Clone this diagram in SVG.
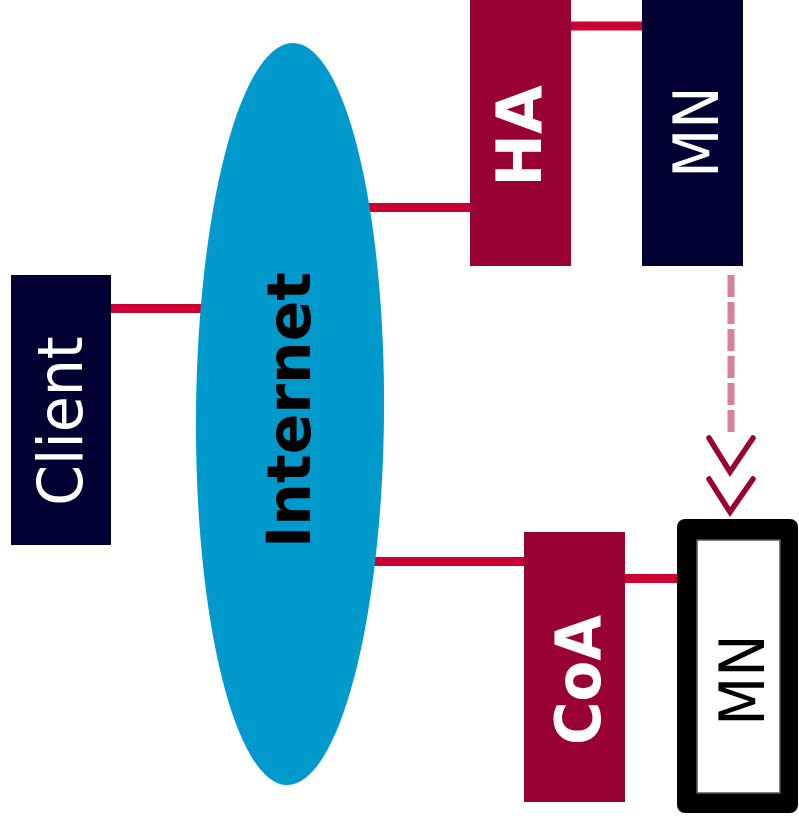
<svg xmlns="http://www.w3.org/2000/svg" width="799" height="821" viewBox="0 0 799 821">
  <style>
    .link { stroke: #CC0033; stroke-width: 9; fill: none; }
    .navy { fill: #000033; }
    .wine { fill: #990033; }
    .lbl { font-family: "DejaVu Sans", Verdana, sans-serif; font-size: 63px; text-anchor: middle; }
    .w { fill: #FFFFFF; }
    .b { font-weight: bold; }
    .move { stroke: #D4809E; stroke-width: 7; stroke-dasharray: 22 5; fill: none; }
    .chev { stroke: #990033; stroke-width: 5.5; fill: none; stroke-linecap: round; stroke-linejoin: miter; }
  </style>

  <rect width="799" height="821" fill="#FFFFFF"/>

  <!-- links between nodes -->
  <g id="connectors">
    <line class="link" x1="107" y1="308.5" x2="206" y2="308.5"/>
    <line class="link" x1="366" y1="207.5" x2="472" y2="207.5"/>
    <line class="link" x1="566" y1="26" x2="644" y2="26"/>
    <line class="link" x1="372" y1="561.5" x2="530" y2="561.5"/>
    <line class="link" x1="623" y1="578.5" x2="679" y2="578.5"/>
    <!-- movement of the mobile node -->
    <line class="move" x1="731" y1="275" x2="731" y2="434"/>
    <polyline class="chev" points="709,438 730,472 753,438"/>
    <polyline class="chev" points="709,479 730,512 753,479"/>
  </g>

  <g id="internet">
    <ellipse cx="290" cy="414" rx="94" ry="371" fill="#0099CC" transform="rotate(0.46 290 414)"/>
    <text class="lbl b" style="font-size:60px" transform="translate(310 410) rotate(-90)" fill="#000000">Internet</text>
  </g>

  <g id="client">
    <rect class="navy" x="11" y="275" width="100" height="270"/>
    <text class="lbl w" transform="translate(82 421) rotate(-90) scale(0.93 1)">Client</text>
  </g>

  <g id="ha">
    <rect class="wine" x="470" y="-5" width="101" height="271"/>
    <text class="lbl w b" transform="translate(541 136) rotate(-90)">HA</text>
  </g>

  <g id="mn-home">
    <rect class="navy" x="642" y="-5" width="101" height="271"/>
    <text class="lbl w" transform="translate(718 132) rotate(-90) scale(0.9 1)">MN</text>
  </g>

  <g id="coa">
    <rect class="wine" x="524" y="532" width="101" height="270"/>
    <text class="lbl w b" transform="translate(600 680) rotate(-90) scale(0.94 1)">CoA</text>
  </g>

  <g id="mn-visiting">
    <rect x="677" y="519" width="121" height="294" rx="8" fill="#000000"/>
    <rect x="697" y="540" width="83" height="253" fill="#FFFFFF" stroke="#555555" stroke-width="1.5"/>
    <text class="lbl" transform="translate(764 680) rotate(-90) scale(0.9 1)" fill="#000000">MN</text>
  </g>
</svg>
